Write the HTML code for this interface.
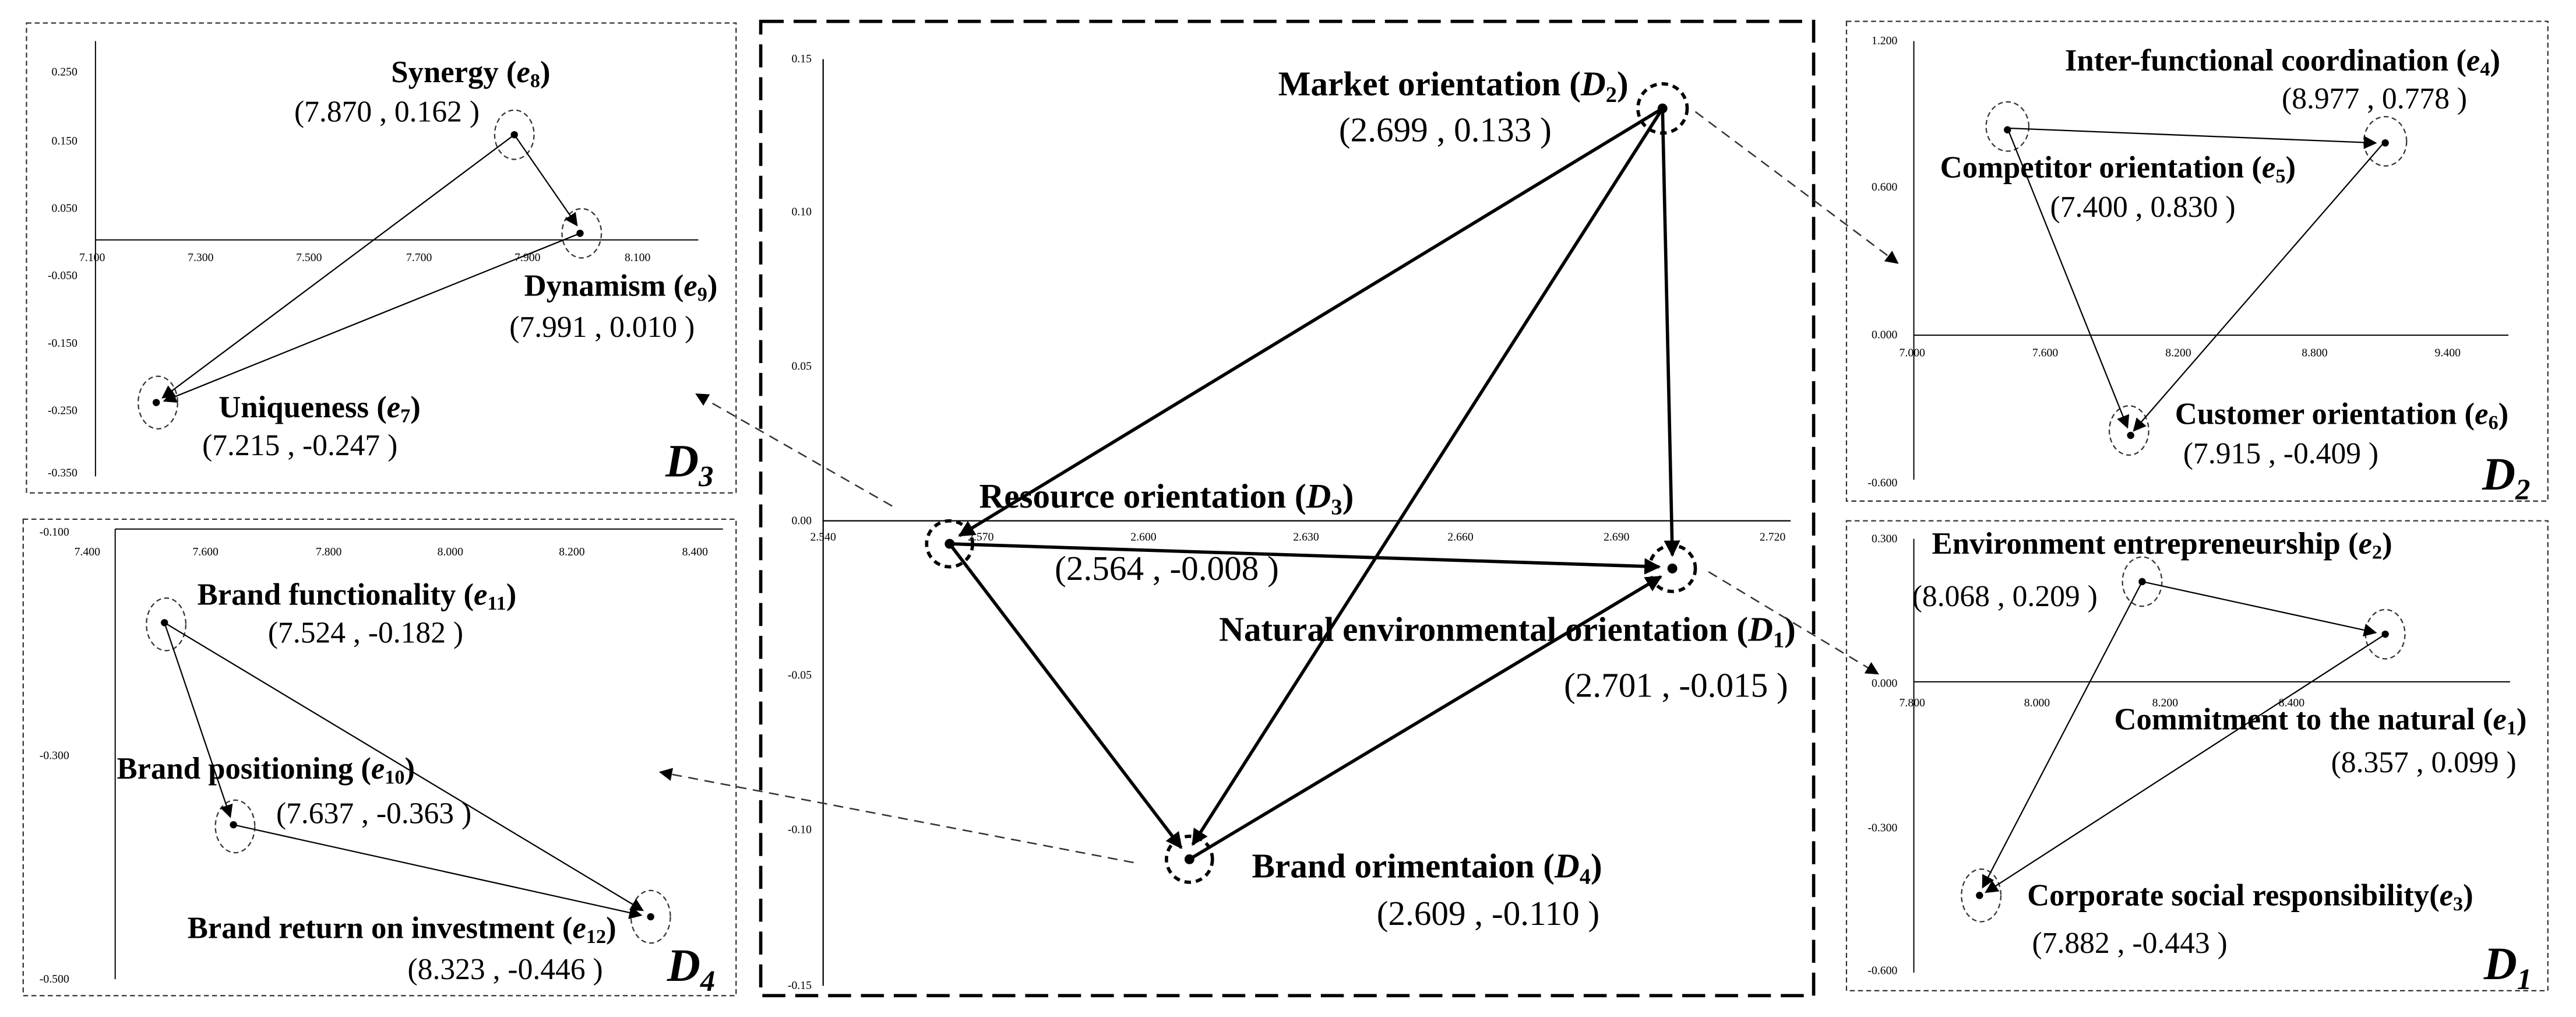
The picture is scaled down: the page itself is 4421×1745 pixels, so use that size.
<!DOCTYPE html>
<html><head><meta charset="utf-8"><style>
html,body{margin:0;padding:0;background:#fff;}
svg{display:block;}
text{font-family:"Liberation Serif",serif;fill:#000;}
.ax{font-size:7px;font-family:"Liberation Serif",serif;}
.lb{font-size:18.7px;font-weight:bold;}
.lc{font-size:21px;font-weight:bold;}
.v{font-size:18.3px;}
.vc{font-size:21px;}
.big{font-size:28px;font-weight:bold;font-style:italic;}
</style></head><body>
<svg width="4421" height="1745" viewBox="0 0 1568 619" xmlns="http://www.w3.org/2000/svg">
<defs>
<marker id="a" markerWidth="8" markerHeight="8" refX="7" refY="4" orient="auto" markerUnits="userSpaceOnUse"><path d="M0,0 L8,4 L0,8 z" fill="#000"/></marker>
<marker id="b" markerWidth="10" markerHeight="10" refX="9" refY="5" orient="auto" markerUnits="userSpaceOnUse"><path d="M0,0 L10,5 L0,10 z" fill="#000"/></marker>
</defs>
<rect width="1568" height="619" fill="#fff"/>
<g fill="none" stroke="#333" stroke-width="0.8" stroke-dasharray="3,2">
<rect x="16" y="14" width="432" height="286"/>
<rect x="14" y="316" width="434" height="290"/>
<rect x="1124" y="13" width="427" height="292"/>
<rect x="1124" y="317" width="427" height="286"/>
</g>
<rect x="463" y="13" width="641" height="593" fill="none" stroke="#000" stroke-width="2" stroke-dasharray="14,6"/>

<!-- center chart -->
<g stroke="#000" stroke-width="0.8"><line x1="501" y1="36" x2="501" y2="600"/><line x1="501" y1="317" x2="1090" y2="317"/></g>
<g class="ax" text-anchor="end">
<text x="494" y="38">0.15</text><text x="494" y="131">0.10</text><text x="494" y="225">0.05</text><text x="494" y="319">0.00</text><text x="494" y="413">-0.05</text><text x="494" y="507">-0.10</text><text x="494" y="602">-0.15</text></g>
<g class="ax" text-anchor="middle">
<text x="501" y="329">2.540</text><text x="597" y="329">2.570</text><text x="696" y="329">2.600</text><text x="795" y="329">2.630</text><text x="889" y="329">2.660</text><text x="984" y="329">2.690</text><text x="1079" y="329">2.720</text></g>
<g fill="none" stroke="#000" stroke-width="2" stroke-dasharray="4,3">
<circle cx="1012" cy="66" r="15"/><circle cx="578" cy="331" r="14"/><circle cx="1018" cy="346" r="14"/><circle cx="724" cy="523" r="14"/></g>
<g stroke="#000" stroke-width="2" marker-end="url(#b)">
<line x1="1012" y1="66" x2="584" y2="326"/>
<line x1="1012" y1="66" x2="1018" y2="338"/>
<line x1="578" y1="331" x2="1010" y2="345"/>
<line x1="578" y1="331" x2="719" y2="516"/>
<line x1="1012" y1="66" x2="726" y2="514"/>
<line x1="724" y1="523" x2="1011" y2="351"/>
</g>
<g fill="#000"><circle cx="1012" cy="66" r="3"/><circle cx="578" cy="331" r="3"/><circle cx="1018" cy="346" r="3"/><circle cx="724" cy="523" r="3"/></g>
<text class="lc" x="778" y="58">Market orientation (<tspan font-style="italic">D</tspan><tspan font-size="0.65em" dy="4">2</tspan><tspan dy="-4">)</tspan></text>
<text class="vc" x="815" y="86">(2.699 , 0.133 )</text>
<text class="lc" x="596" y="309">Resource orientation (<tspan font-style="italic">D</tspan><tspan font-size="0.65em" dy="4">3</tspan><tspan dy="-4">)</tspan></text>
<text class="vc" x="642" y="353">(2.564 , -0.008 )</text>
<text class="lc" x="742" y="390">Natural environmental orientation (<tspan font-style="italic">D</tspan><tspan font-size="0.65em" dy="4">1</tspan><tspan dy="-4">)</tspan></text>
<text class="vc" x="952" y="424">(2.701 , -0.015 )</text>
<text class="lc" x="762" y="534">Brand orimentaion (<tspan font-style="italic">D</tspan><tspan font-size="0.65em" dy="4">4</tspan><tspan dy="-4">)</tspan></text>
<text class="vc" x="838" y="563">(2.609 , -0.110 )</text>

<g stroke="#333" stroke-width="0.9" stroke-dasharray="6,4" marker-end="url(#a)">
<line x1="1032" y1="68" x2="1155" y2="160"/>
<line x1="1040" y1="348" x2="1143" y2="410"/>
<line x1="543" y1="308" x2="424" y2="240"/>
<line x1="690" y1="525" x2="402" y2="470"/>
</g>

<!-- D3 panel -->
<g stroke="#000" stroke-width="0.7"><line x1="58" y1="25" x2="58" y2="290"/><line x1="58" y1="146" x2="425" y2="146"/></g>
<g class="ax" text-anchor="end"><text x="47" y="46">0.250</text><text x="47" y="88">0.150</text><text x="47" y="129">0.050</text><text x="47" y="170">-0.050</text><text x="47" y="211">-0.150</text><text x="47" y="252">-0.250</text><text x="47" y="290">-0.350</text></g>
<g class="ax" text-anchor="middle"><text x="56" y="159">7.100</text><text x="122" y="159">7.300</text><text x="188" y="159">7.500</text><text x="255" y="159">7.700</text><text x="321" y="159">7.900</text><text x="388" y="159">8.100</text></g>
<g fill="none" stroke="#333" stroke-width="0.8" stroke-dasharray="3,2"><ellipse cx="313" cy="82" rx="12" ry="15"/><ellipse cx="354" cy="142" rx="12" ry="15"/><ellipse cx="96" cy="245" rx="12" ry="16"/></g>
<g stroke="#000" stroke-width="0.8" marker-end="url(#a)"><line x1="313" y1="82" x2="351" y2="137"/><line x1="313" y1="82" x2="99" y2="242"/><line x1="353" y1="142" x2="100" y2="244"/></g>
<g fill="#000"><circle cx="313" cy="82" r="2.2"/><circle cx="353" cy="142" r="2.2"/><circle cx="95" cy="245" r="2.2"/></g>
<text class="lb" x="238" y="50">Synergy (<tspan font-style="italic">e</tspan><tspan font-size="0.65em" dy="3">8</tspan><tspan dy="-3">)</tspan></text>
<text class="v" x="179" y="74">(7.870 , 0.162 )</text>
<text class="lb" x="319" y="180">Dynamism (<tspan font-style="italic">e</tspan><tspan font-size="0.65em" dy="3">9</tspan><tspan dy="-3">)</tspan></text>
<text class="v" x="310" y="205">(7.991 , 0.010 )</text>
<text class="lb" x="133" y="254">Uniqueness (<tspan font-style="italic">e</tspan><tspan font-size="0.65em" dy="3">7</tspan><tspan dy="-3">)</tspan></text>
<text class="v" x="123" y="277">(7.215 , -0.247 )</text>
<text class="big" x="405" y="290">D<tspan font-size="18" dy="6">3</tspan></text>

<!-- D4 panel -->
<g stroke="#000" stroke-width="0.7"><line x1="70" y1="322" x2="70" y2="596"/><line x1="70" y1="322" x2="440" y2="322"/></g>
<g class="ax" text-anchor="end"><text x="42" y="326">-0.100</text><text x="42" y="462">-0.300</text><text x="42" y="598">-0.500</text></g>
<g class="ax" text-anchor="middle"><text x="53" y="338">7.400</text><text x="125" y="338">7.600</text><text x="200" y="338">7.800</text><text x="274" y="338">8.000</text><text x="348" y="338">8.200</text><text x="423" y="338">8.400</text></g>
<g fill="none" stroke="#333" stroke-width="0.8" stroke-dasharray="3,2"><ellipse cx="101" cy="380" rx="12" ry="16"/><ellipse cx="143" cy="503" rx="12" ry="16"/><ellipse cx="396" cy="558" rx="12" ry="16"/></g>
<g stroke="#000" stroke-width="0.8" marker-end="url(#a)"><line x1="100" y1="379" x2="140" y2="497"/><line x1="100" y1="379" x2="391" y2="554"/><line x1="142" y1="502" x2="390" y2="557"/></g>
<g fill="#000"><circle cx="100" cy="379" r="2.2"/><circle cx="142" cy="502" r="2.2"/><circle cx="396" cy="558" r="2.2"/></g>
<text class="lb" x="120" y="368">Brand functionality (<tspan font-style="italic">e</tspan><tspan font-size="0.65em" dy="3">11</tspan><tspan dy="-3">)</tspan></text>
<text class="v" x="163" y="391">(7.524 , -0.182 )</text>
<text class="lb" x="71" y="474">Brand positioning (<tspan font-style="italic">e</tspan><tspan font-size="0.65em" dy="3">10</tspan><tspan dy="-3">)</tspan></text>
<text class="v" x="168" y="501">(7.637 , -0.363 )</text>
<text class="lb" x="114" y="571">Brand return on investment (<tspan font-style="italic">e</tspan><tspan font-size="0.65em" dy="3">12</tspan><tspan dy="-3">)</tspan></text>
<text class="v" x="248" y="596">(8.323 , -0.446 )</text>
<text class="big" x="406" y="597">D<tspan font-size="18" dy="6">4</tspan></text>

<!-- D2 panel -->
<g stroke="#000" stroke-width="0.7"><line x1="1165" y1="25" x2="1165" y2="292"/><line x1="1165" y1="204" x2="1527" y2="204"/></g>
<g class="ax" text-anchor="end"><text x="1155" y="27">1.200</text><text x="1155" y="116">0.600</text><text x="1155" y="206">0.000</text><text x="1155" y="296">-0.600</text></g>
<g class="ax" text-anchor="middle"><text x="1164" y="217">7.000</text><text x="1245" y="217">7.600</text><text x="1326" y="217">8.200</text><text x="1409" y="217">8.800</text><text x="1490" y="217">9.400</text></g>
<g fill="none" stroke="#333" stroke-width="0.8" stroke-dasharray="3,2"><ellipse cx="1222" cy="77" rx="13" ry="15"/><ellipse cx="1452" cy="86" rx="13" ry="15"/><ellipse cx="1296" cy="262" rx="12" ry="15"/></g>
<g stroke="#000" stroke-width="0.8" marker-end="url(#a)"><line x1="1222" y1="78" x2="1446" y2="87"/><line x1="1222" y1="78" x2="1295" y2="260"/><line x1="1451" y1="87" x2="1299" y2="262"/></g>
<g fill="#000"><circle cx="1222" cy="79" r="2.2"/><circle cx="1452" cy="87" r="2.2"/><circle cx="1297" cy="265" r="2.2"/></g>
<text class="lb" x="1257" y="43">Inter-functional coordination (<tspan font-style="italic">e</tspan><tspan font-size="0.65em" dy="3">4</tspan><tspan dy="-3">)</tspan></text>
<text class="v" x="1389" y="66">(8.977 , 0.778 )</text>
<text class="lb" x="1181" y="108">Competitor orientation (<tspan font-style="italic">e</tspan><tspan font-size="0.65em" dy="3">5</tspan><tspan dy="-3">)</tspan></text>
<text class="v" x="1248" y="132">(7.400 , 0.830 )</text>
<text class="lb" x="1324" y="258">Customer orientation (<tspan font-style="italic">e</tspan><tspan font-size="0.65em" dy="3">6</tspan><tspan dy="-3">)</tspan></text>
<text class="v" x="1329" y="282">(7.915 , -0.409 )</text>
<text class="big" x="1511" y="298">D<tspan font-size="18" dy="6">2</tspan></text>

<!-- D1 panel -->
<g stroke="#000" stroke-width="0.7"><line x1="1165" y1="328" x2="1165" y2="592"/><line x1="1165" y1="415" x2="1528" y2="415"/></g>
<g class="ax" text-anchor="end"><text x="1155" y="330">0.300</text><text x="1155" y="418">0.000</text><text x="1155" y="506">-0.300</text><text x="1155" y="593">-0.600</text></g>
<g class="ax" text-anchor="middle"><text x="1164" y="430">7.800</text><text x="1240" y="430">8.000</text><text x="1318" y="430">8.200</text><text x="1395" y="430">8.400</text></g>
<g fill="none" stroke="#333" stroke-width="0.8" stroke-dasharray="3,2"><ellipse cx="1304" cy="354" rx="12" ry="15"/><ellipse cx="1452" cy="386" rx="12" ry="15"/><ellipse cx="1206" cy="545" rx="12" ry="16"/></g>
<g stroke="#000" stroke-width="0.8" marker-end="url(#a)"><line x1="1304" y1="354" x2="1446" y2="385"/><line x1="1304" y1="354" x2="1207" y2="540"/><line x1="1452" y1="386" x2="1209" y2="543"/></g>
<g fill="#000"><circle cx="1304" cy="354" r="2.2"/><circle cx="1452" cy="386" r="2.2"/><circle cx="1205" cy="545" r="2.2"/></g>
<text class="lb" x="1176" y="337">Environment entrepreneurship (<tspan font-style="italic">e</tspan><tspan font-size="0.65em" dy="3">2</tspan><tspan dy="-3">)</tspan></text>
<text class="v" x="1164" y="369">(8.068 , 0.209 )</text>
<text class="lb" x="1287" y="444">Commitment to the natural (<tspan font-style="italic">e</tspan><tspan font-size="0.65em" dy="3">1</tspan><tspan dy="-3">)</tspan></text>
<text class="v" x="1419" y="470">(8.357 , 0.099 )</text>
<text class="lb" x="1234" y="551">Corporate social responsibility(<tspan font-style="italic">e</tspan><tspan font-size="0.65em" dy="3">3</tspan><tspan dy="-3">)</tspan></text>
<text class="v" x="1237" y="580">(7.882 , -0.443 )</text>
<text class="big" x="1512" y="596">D<tspan font-size="18" dy="6">1</tspan></text>
</svg>
</body></html>
